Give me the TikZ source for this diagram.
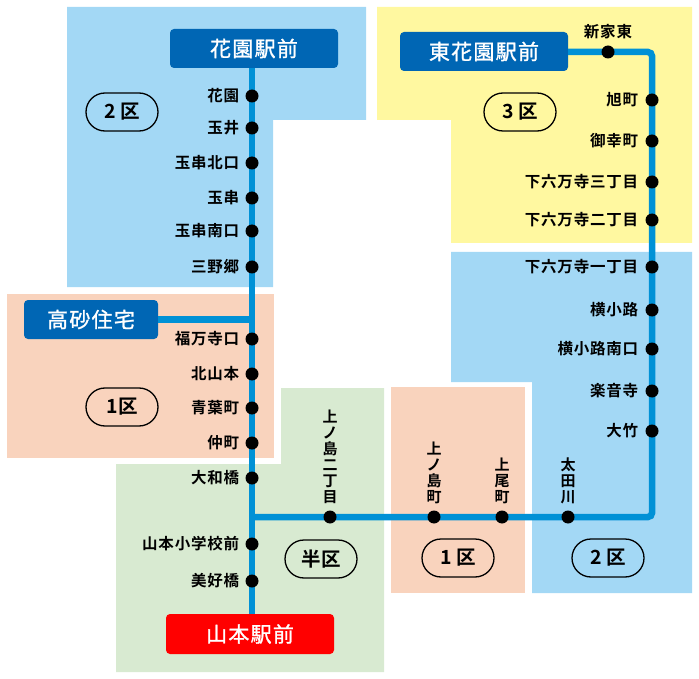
\documentclass[tikz,border=0pt]{standalone}
\usepackage{fontspec}
\setmainfont{Noto Sans CJK JP}
\newfontfamily\jpbold[LetterSpace=5]{Noto Sans CJK JP Bold}
\newfontfamily\jpreg[LetterSpace=6,FakeBold=1.2]{Noto Sans CJK JP}
\definecolor{zblue}{RGB}{163,216,245}
\definecolor{zyellow}{RGB}{255,248,160}
\definecolor{zpeach}{RGB}{249,211,189}
\definecolor{zgreen}{RGB}{216,234,209}
\definecolor{lineblue}{RGB}{0,145,214}
\definecolor{boxblue}{RGB}{0,102,180}
\definecolor{boxred}{RGB}{255,0,0}
\tikzset{
  terminal/.style={rounded corners=4pt, minimum height=39pt, text=white, inner sep=0pt,
    font=\jpreg\fontsize{21}{21}\selectfont},
  stn/.style={circle, fill=black, minimum size=13pt, inner sep=0pt},
  lbl/.style={anchor=east, inner sep=0pt, font=\jpbold\fontsize{15.5}{15.5}\selectfont},
  vlbl/.style={anchor=south, align=center, inner sep=0pt, font=\jpbold\fontsize{15}{16}\selectfont},
  zone/.style={draw=black, line width=1.3pt, rounded corners=19pt, minimum width=72pt,
    minimum height=38pt, inner sep=0pt, font=\jpbold\fontsize{19.5}{19.5}\selectfont},
  rail/.style={draw=lineblue, line width=6.5pt}
}
\begin{document}
\begin{tikzpicture}[x=1pt,y=-1pt]
\useasboundingbox (0,0) rectangle (699,679);
% zone regions
\fill[zblue] (67,7) -- (366,7) -- (366,120) -- (273,120) -- (273,287) -- (67,287) -- cycle;
\fill[zyellow] (377,7) -- (692,7) -- (692,243) -- (451,243) -- (451,120) -- (377,120) -- cycle;
\fill[zblue] (451,252) -- (692,252) -- (692,593) -- (532,593) -- (532,382) -- (451,382) -- cycle;
\fill[zpeach] (7,294) rectangle (274,458);
\fill[zgreen] (116,464) -- (281,464) -- (281,388) -- (384,388) -- (384,672) -- (116,672) -- cycle;
\fill[zpeach] (391,387) rectangle (525,593);

% terminals
\node[terminal, fill=boxblue, minimum width=168pt] (kaen) at (254,48.5) {花園駅前};
\node[terminal, fill=boxblue, minimum width=168pt] (higashi) at (484,51.5) {東花園駅前};
\node[terminal, fill=boxblue, minimum width=134pt] (takasago) at (91,319.5) {高砂住宅};
\node[terminal, fill=boxred, minimum width=168pt, minimum height=40pt] (yamamoto) at (250,634) {山本駅前};

% station coordinates (drawn later)
\coordinate (p-hanazono) at (252,96);
\coordinate (p-shinke) at (608,52);
\coordinate (p-asahi) at (652,100);
\coordinate (p-ohta) at (568,517);

% rails
\draw[rail] (p-hanazono |- kaen.south) -- (p-hanazono |- yamamoto.north);
\draw[rail] (takasago.east) -- (p-hanazono |- takasago.east);
\draw[rail, rounded corners=4pt] (p-hanazono |- p-ohta) -- (p-asahi |- p-ohta) -- (p-asahi |- p-shinke) -- (higashi.east |- p-shinke);

% main line stations
\foreach \n/\y/\t in {hanazono/96/花園, tamai/128/玉井, tkita/163/玉串北口, tamagushi/198/玉串,
  tminami/231/玉串南口, minogo/267/三野郷, fukuman/339/福万寺口, kitayama/374/北山本,
  aoba/408/青葉町, naka/443/仲町, yamato/478/大和橋, shogakko/544/山本小学校前, miyoshi/581/美好橋}{
  \node[stn] (s-\n) at (252,\y) {};
  \node[lbl] (l-\n) at ([xshift=-6pt]s-\n.west) {\t};
}
% east line stations
\node[stn] (s-shinke) at (p-shinke) {};
\node[anchor=south, inner sep=0pt, font=\jpbold\fontsize{15.5}{15.5}\selectfont] (l-shinke) at ([yshift=6pt]s-shinke.north) {新家東};
\foreach \n/\y/\t in {asahi/100/旭町, miyuki/141/御幸町, s3/182/下六万寺三丁目, s2/220/下六万寺二丁目,
  s1/267/下六万寺一丁目, yokoko/310/横小路, yokominami/349/横小路南口, gakuon/391/楽音寺, otake/431/大竹}{
  \node[stn] (s-\n) at (652,\y) {};
  \node[lbl] (l-\n) at ([xshift=-7pt]s-\n.west) {\t};
}
% bottom branch stations
\foreach \n/\x/\t in {ueno2/330/{上\\ノ\\島\\二\\丁\\目}, uenocho/434/{上\\ノ\\島\\町},
  agario/502/{上\\尾\\町}, ohta/568/{太\\田\\川}}{
  \node[stn] (s-\n) at (\x,517) {};
  \node[vlbl] (l-\n) at ([yshift=6pt]s-\n.north) {\t};
}

% zone labels
\node[zone] (z2a) at (122,112) {2\hspace{4pt}区};
\node[zone] (z3) at (520,112) {3\hspace{4pt}区};
\node[zone] (z1a) at (122,407) {1区};
\node[zone] (zhan) at (321,559) {半区};
\node[zone] (z1b) at (458,558) {1\hspace{4pt}区};
\node[zone] (z2b) at (608,558) {2\hspace{4pt}区};
\end{tikzpicture}
\end{document}
